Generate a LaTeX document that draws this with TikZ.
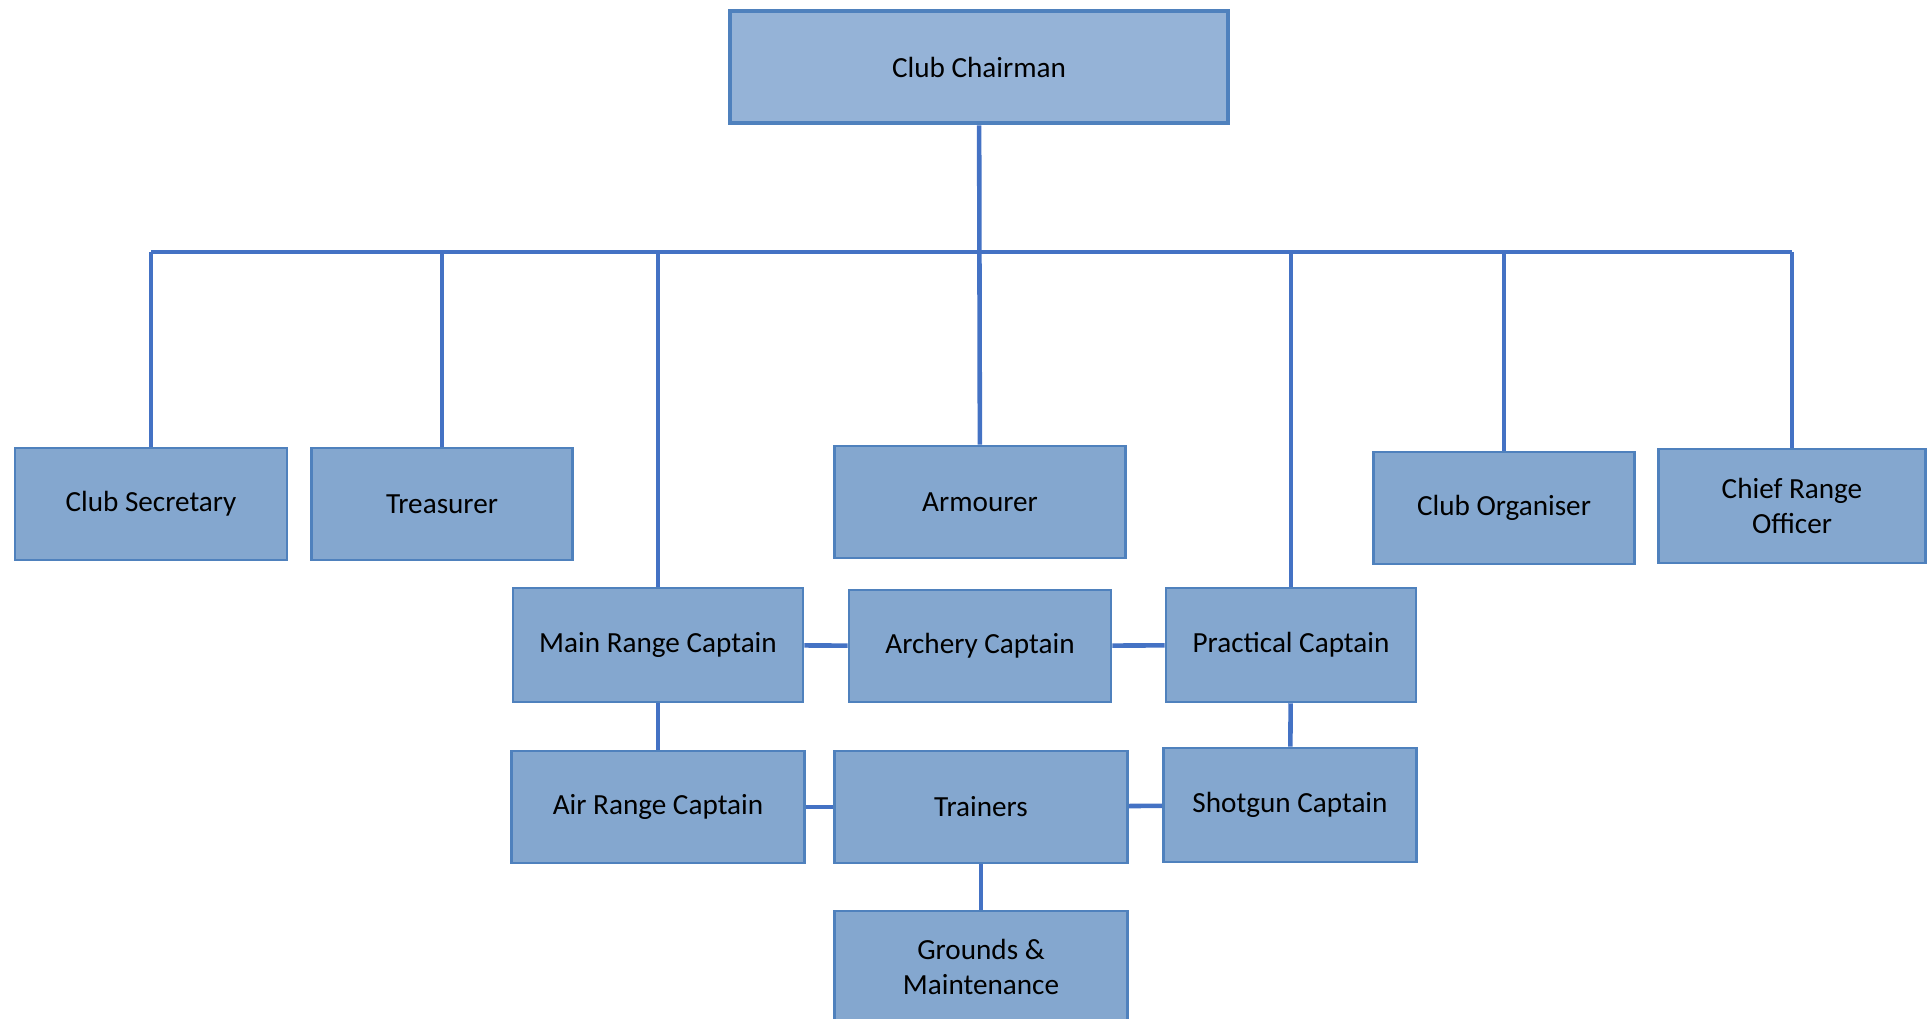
\documentclass[tikz,border=0pt]{standalone}
\usepackage{fontspec}
\setmainfont{Carlito}
\definecolor{chairfill}{RGB}{149,179,215}
\definecolor{boxfill}{RGB}{132,167,207}
\definecolor{boxedge}{RGB}{79,129,189}
\definecolor{linkblue}{RGB}{68,114,196}

\tikzset{
  role/.style={draw=boxedge, fill=boxfill, line width=0.7pt, inner sep=0pt,
    align=center, font=\fontsize{8.3}{10.2}\selectfont},
  link/.style={draw=linkblue, line width=1.3pt}
}

\begin{document}
\begin{tikzpicture}[x=0.01cm, y=-0.01cm]
  \useasboundingbox (0,0) rectangle (1930,1019);
  % top of the tree
  \node[role, fill=chairfill, line width=1.3pt, minimum width=4.98cm, minimum height=1.12cm] (chair) at (979,67) {Club Chairman};
  \coordinate (bus) at (980,252);

  % first row
  \node[role, minimum width=2.72cm, minimum height=1.12cm] (secretary) at (151,504) {Club Secretary};
  \node[role, minimum width=2.61cm, minimum height=1.12cm] (treasurer) at (442,504) {Treasurer};
  \node[role, minimum width=2.91cm, minimum height=1.12cm] (armourer) at (980,502) {Armourer};
  \node[role, minimum width=2.61cm, minimum height=1.12cm] (organiser) at (1504,508) {Club Organiser};
  \node[role, minimum width=2.67cm, minimum height=1.14cm] (cro) at (1792,506) {Chief Range\\Officer};

  % captains
  \node[role, minimum width=2.90cm, minimum height=1.14cm] (mainrange) at (658,645) {Main Range Captain};
  \node[role, minimum width=2.62cm, minimum height=1.12cm] (archery) at (980,646) {Archery Captain};
  \node[role, minimum width=2.50cm, minimum height=1.14cm] (practical) at (1291,645) {Practical Captain};
  \node[role, minimum width=2.93cm, minimum height=1.12cm] (airrange) at (658,807) {Air Range Captain};
  \node[role, minimum width=2.93cm, minimum height=1.12cm] (trainers) at (981,807) {Trainers};
  \node[role, minimum width=2.53cm, minimum height=1.14cm] (shotgun) at (1290,805) {Shotgun Captain};
  \node[role, minimum width=2.93cm, minimum height=1.12cm] (grounds) at (981,967) {Grounds \&\\Maintenance};

  % connectors
  \draw[link] (secretary |- bus) -- (cro |- bus);
  \draw[link] (chair) -- (armourer);
  \foreach \n in {secretary,treasurer,mainrange,practical,organiser,cro}
    \draw[link] (\n |- bus) -- (\n.north);
  \draw[link] (mainrange) -- (archery);
  \draw[link] (archery) -- (practical);
  \draw[link] (mainrange) -- (airrange);
  \draw[link] (practical) -- (shotgun);
  \draw[link] (airrange) -- (trainers);
  \draw[link] (trainers) -- (shotgun);
  \draw[link] (trainers) -- (grounds);
\end{tikzpicture}
\end{document}
